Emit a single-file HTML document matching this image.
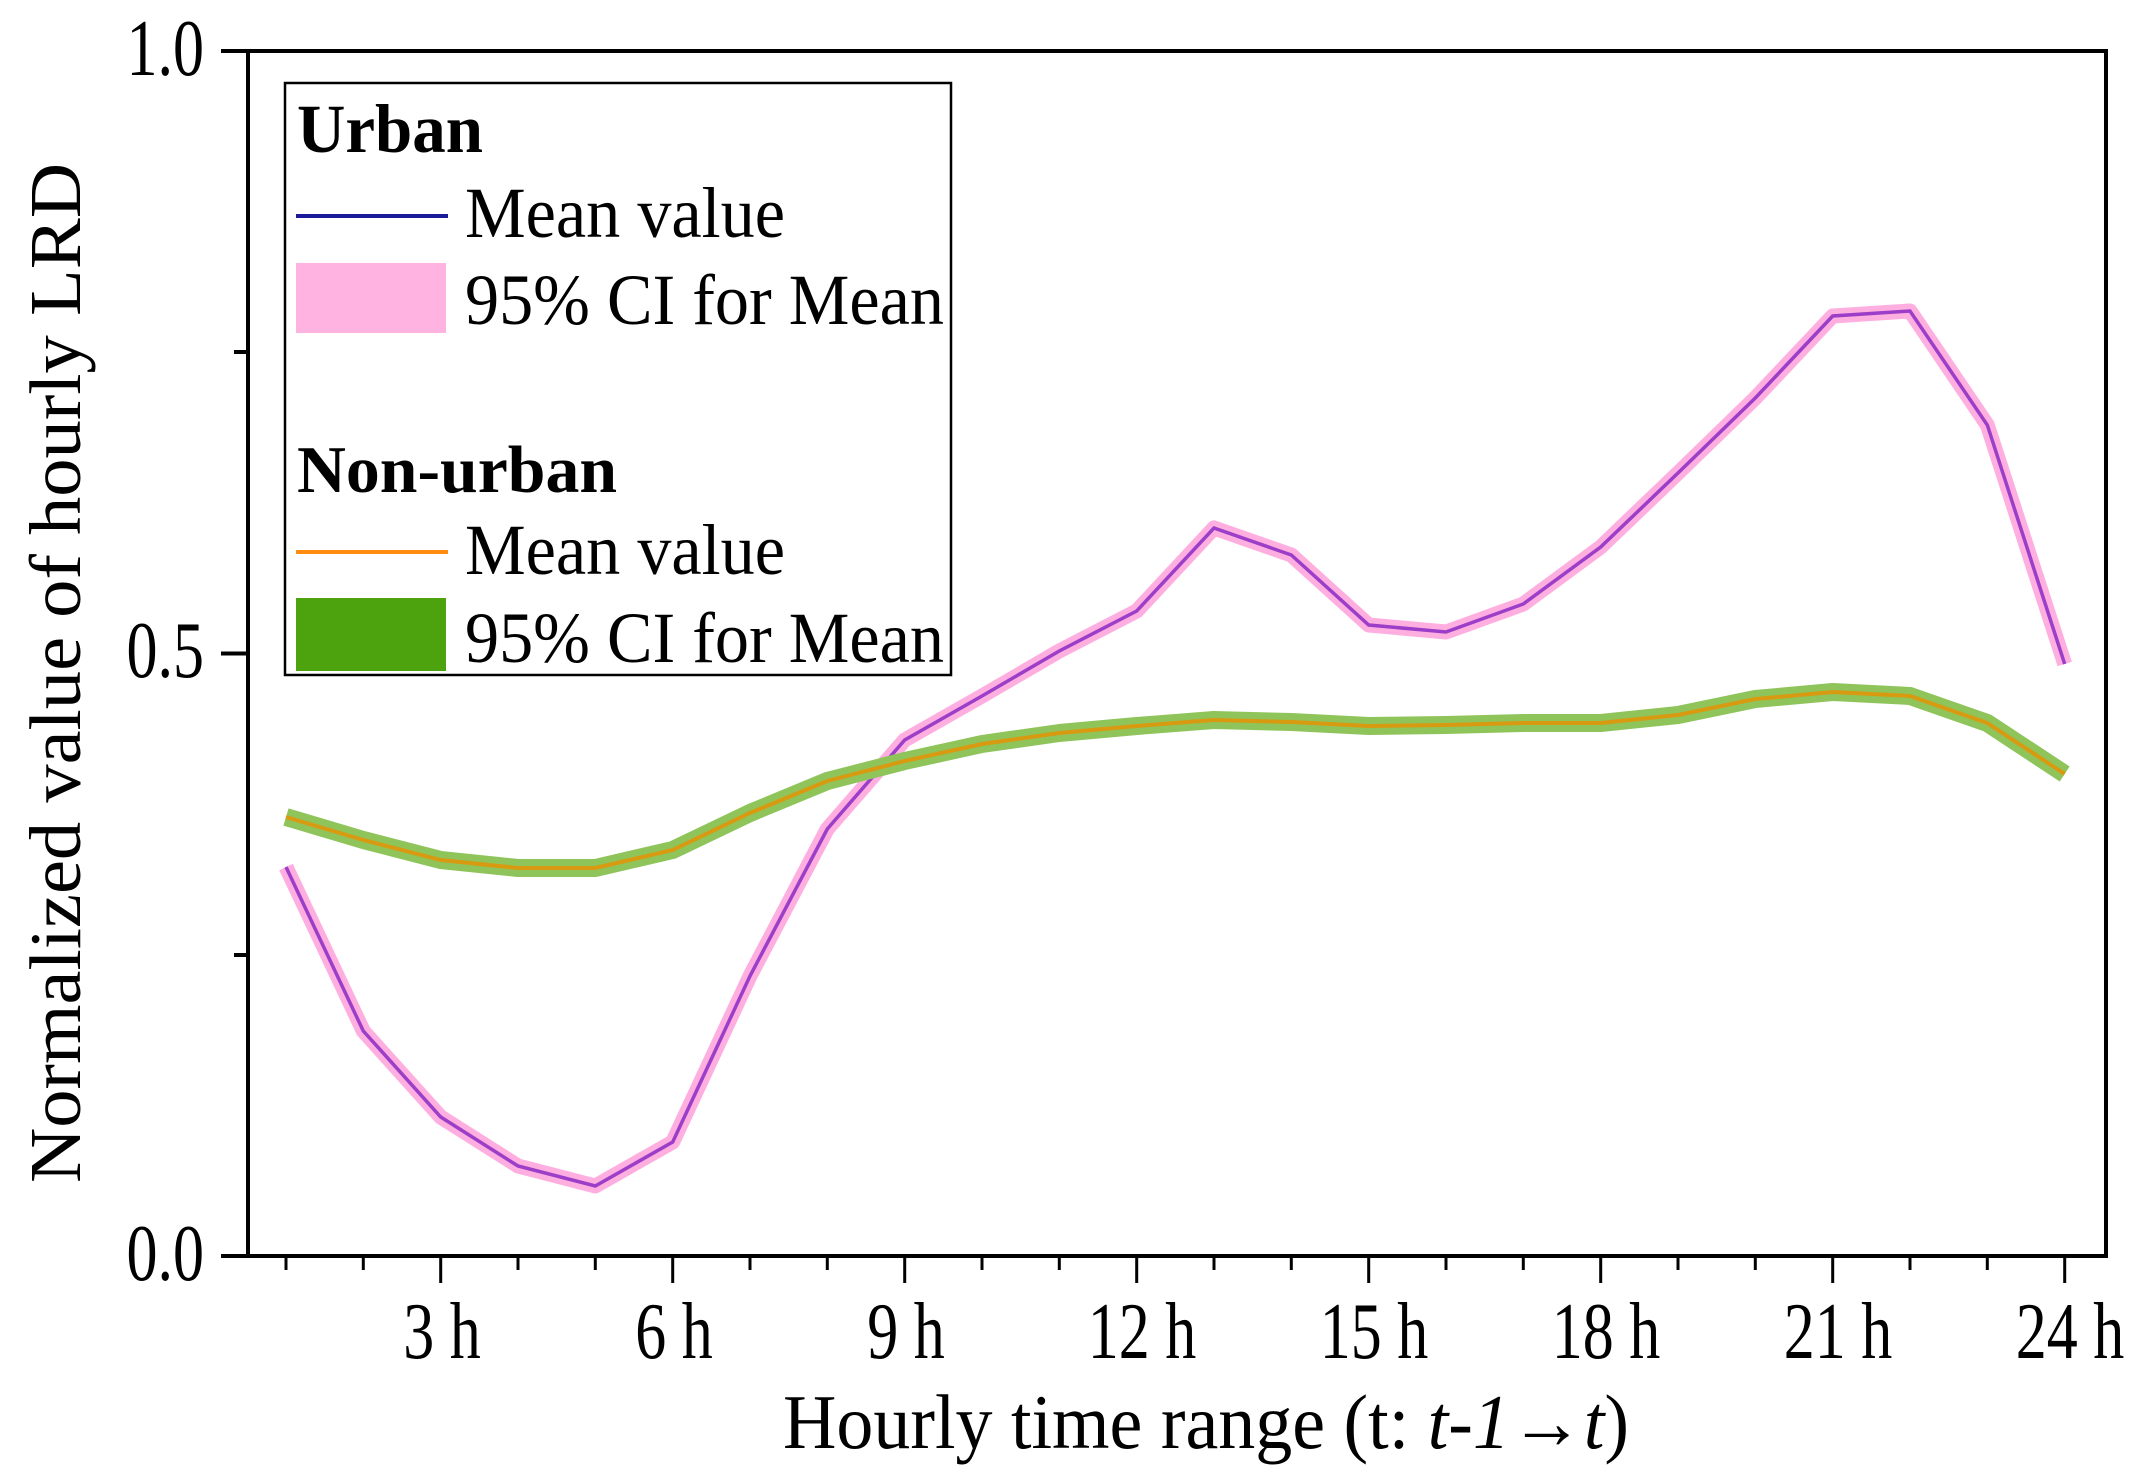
<!DOCTYPE html>
<html><head><meta charset="utf-8"><style>html,body{margin:0;padding:0;background:#fff}svg{display:block}</style></head>
<body>
<svg width="2146" height="1481" viewBox="0 0 2146 1481" xmlns="http://www.w3.org/2000/svg" font-family="'Liberation Serif', serif">
<rect width="2146" height="1481" fill="#fff"/>
<polyline fill="none" stroke="#ffaee0" stroke-width="15" stroke-linejoin="round" points="286,867 363.3,1031 440.7,1117 518,1166 595.3,1186 672.7,1142 750,976 827.3,829 904.7,740 982,696 1059.3,651 1136.7,611 1214,528 1291.3,555 1368.7,625 1446,632 1523.3,604 1600.7,547 1678,473 1755.3,398 1832.7,316 1910,311 1987.3,425 2064.7,664"/>
<polyline fill="none" stroke="#9c3ec8" stroke-width="3.5" points="286,867 363.3,1031 440.7,1117 518,1166 595.3,1186 672.7,1142 750,976 827.3,829 904.7,740 982,696 1059.3,651 1136.7,611 1214,528 1291.3,555 1368.7,625 1446,632 1523.3,604 1600.7,547 1678,473 1755.3,398 1832.7,316 1910,311 1987.3,425 2064.7,664"/>
<polyline fill="none" stroke="#8fc45a" stroke-width="18" stroke-linejoin="round" points="286,817 363.3,840 440.7,860 518,868 595.3,868 672.7,850 750,813 827.3,781 904.7,761 982,744 1059.3,733 1136.7,726 1214,720 1291.3,722 1368.7,726 1446,725 1523.3,723 1600.7,723 1678,715 1755.3,699 1832.7,692 1910,696 1987.3,723 2064.7,774"/>
<polyline fill="none" stroke="#d89a10" stroke-width="4" points="286,817 363.3,840 440.7,860 518,868 595.3,868 672.7,850 750,813 827.3,781 904.7,761 982,744 1059.3,733 1136.7,726 1214,720 1291.3,722 1368.7,726 1446,725 1523.3,723 1600.7,723 1678,715 1755.3,699 1832.7,692 1910,696 1987.3,723 2064.7,774"/>
<rect x="248" y="51" width="1858" height="1205" fill="none" stroke="#000" stroke-width="4"/>
<g stroke="#000" stroke-width="4">
<line x1="221" y1="51" x2="248" y2="51"/>
<line x1="221" y1="653.5" x2="248" y2="653.5"/>
<line x1="221" y1="1256" x2="248" y2="1256"/>
<line x1="234" y1="352" x2="248" y2="352"/>
<line x1="234" y1="955" x2="248" y2="955"/>
</g>
<g stroke="#000" stroke-width="3">
<line x1="286" y1="1256" x2="286" y2="1270"/>
<line x1="363.3" y1="1256" x2="363.3" y2="1270"/>
<line x1="440.7" y1="1256" x2="440.7" y2="1283"/>
<line x1="518" y1="1256" x2="518" y2="1270"/>
<line x1="595.3" y1="1256" x2="595.3" y2="1270"/>
<line x1="672.7" y1="1256" x2="672.7" y2="1283"/>
<line x1="750" y1="1256" x2="750" y2="1270"/>
<line x1="827.3" y1="1256" x2="827.3" y2="1270"/>
<line x1="904.7" y1="1256" x2="904.7" y2="1283"/>
<line x1="982" y1="1256" x2="982" y2="1270"/>
<line x1="1059.3" y1="1256" x2="1059.3" y2="1270"/>
<line x1="1136.7" y1="1256" x2="1136.7" y2="1283"/>
<line x1="1214" y1="1256" x2="1214" y2="1270"/>
<line x1="1291.3" y1="1256" x2="1291.3" y2="1270"/>
<line x1="1368.7" y1="1256" x2="1368.7" y2="1283"/>
<line x1="1446" y1="1256" x2="1446" y2="1270"/>
<line x1="1523.3" y1="1256" x2="1523.3" y2="1270"/>
<line x1="1600.7" y1="1256" x2="1600.7" y2="1283"/>
<line x1="1678" y1="1256" x2="1678" y2="1270"/>
<line x1="1755.3" y1="1256" x2="1755.3" y2="1270"/>
<line x1="1832.7" y1="1256" x2="1832.7" y2="1283"/>
<line x1="1910" y1="1256" x2="1910" y2="1270"/>
<line x1="1987.3" y1="1256" x2="1987.3" y2="1270"/>
<line x1="2064.7" y1="1256" x2="2064.7" y2="1283"/>
</g>
<g font-size="62" text-anchor="end" fill="#000">
<text transform="translate(204,75) scale(1,1.3)">1.0</text>
<text transform="translate(204,677) scale(1,1.3)">0.5</text>
<text transform="translate(204,1280) scale(1,1.3)">0.0</text>
</g>
<g font-size="62" text-anchor="middle" fill="#000">
<text transform="translate(442,1358) scale(1,1.3)">3 h</text>
<text transform="translate(674,1358) scale(1,1.3)">6 h</text>
<text transform="translate(906,1358) scale(1,1.3)">9 h</text>
<text transform="translate(1142,1358) scale(1,1.3)">12 h</text>
<text transform="translate(1374,1358) scale(1,1.3)">15 h</text>
<text transform="translate(1606,1358) scale(1,1.3)">18 h</text>
<text transform="translate(1838,1358) scale(1,1.3)">21 h</text>
<text transform="translate(2070,1358) scale(1,1.3)">24 h</text>
</g>
<text transform="translate(783,1448) scale(1,1.2)" font-size="64" textLength="846" lengthAdjust="spacingAndGlyphs">Hourly time range (t: <tspan font-style="italic">t-1</tspan>→<tspan font-style="italic">t</tspan>)</text>
<text transform="translate(80,1183) rotate(-90) scale(1,1.15)" font-size="64" textLength="1020" lengthAdjust="spacingAndGlyphs">Normalized value of hourly LRD</text>
<rect x="285" y="83" width="666" height="592" fill="#fff" stroke="#000" stroke-width="2.5"/>
<text transform="translate(297,152) scale(1,1.15)" font-size="60" font-weight="bold" textLength="186" lengthAdjust="spacingAndGlyphs">Urban</text>
<line x1="296" y1="216" x2="448" y2="216" stroke="#1a1a9a" stroke-width="4"/>
<text transform="translate(465,237) scale(1,1.2)" font-size="60" textLength="320" lengthAdjust="spacingAndGlyphs">Mean value</text>
<rect x="296" y="263" width="150" height="70" fill="#ffb3e0"/>
<text transform="translate(465,324) scale(1,1.2)" font-size="60" textLength="479" lengthAdjust="spacingAndGlyphs">95% CI for Mean</text>
<text transform="translate(297,492) scale(1,1.15)" font-size="58" font-weight="bold" textLength="320" lengthAdjust="spacingAndGlyphs">Non-urban</text>
<line x1="296" y1="552" x2="448" y2="552" stroke="#ff8c10" stroke-width="4"/>
<text transform="translate(465,574) scale(1,1.2)" font-size="60" textLength="320" lengthAdjust="spacingAndGlyphs">Mean value</text>
<rect x="296" y="598" width="150" height="73" fill="#4ca30d"/>
<text transform="translate(465,662) scale(1,1.2)" font-size="60" textLength="479" lengthAdjust="spacingAndGlyphs">95% CI for Mean</text>
</svg>
</body></html>
